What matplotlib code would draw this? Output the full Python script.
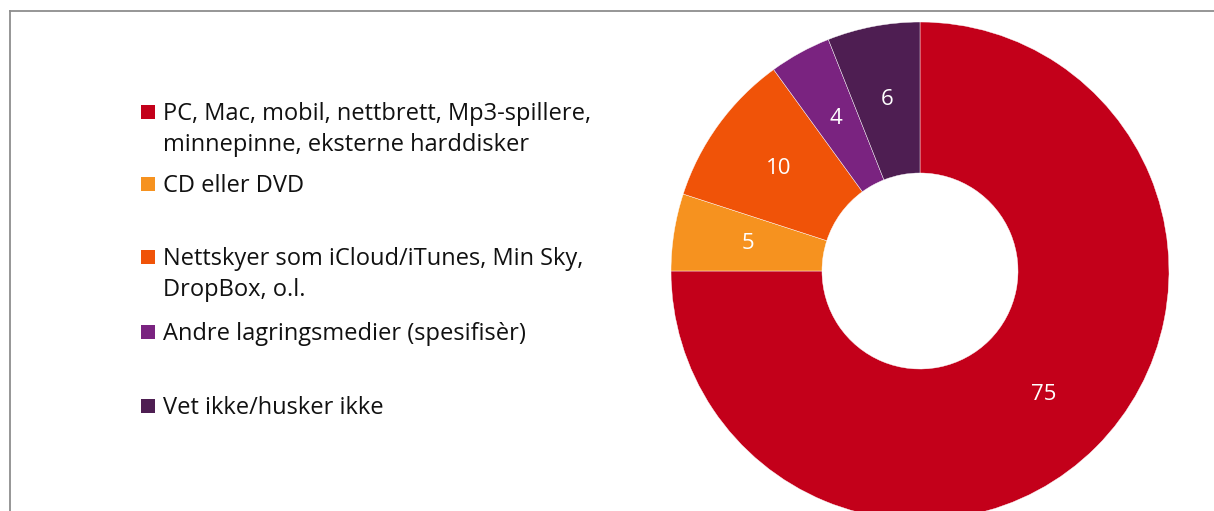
import matplotlib.pyplot as plt
from matplotlib.lines import Line2D
from matplotlib.patches import Rectangle

# data
categories = ['PC, Mac, mobil, nettbrett, Mp3-spillere,\nminnepinne, eksterne harddisker',
              'CD eller DVD',
              'Nettskyer som iCloud/iTunes, Min Sky,\nDropBox, o.l.',
              'Andre lagringsmedier (spesifisèr)',
              'Vet ikke/husker ikke']
values = [75, 5, 10, 4, 6]
COLORS = ['#C3001A', '#F6921F', '#F05308', '#7A2380', '#4E1E52']

W, H = 1214, 511
plt.rcParams['font.family'] = ['Open Sans', 'DejaVu Sans']

fig = plt.figure(figsize=(W / 100, H / 100), dpi=100)
fig.patch.set_facecolor('white')
ax = fig.add_axes([0, 0, 1, 1])

wedges, texts, autotexts = ax.pie(
    values, colors=COLORS, startangle=90, counterclock=False,
    center=(920, H - 271), radius=249,
    wedgeprops=dict(width=249 - 98, edgecolor='white', linewidth=0.3),
    autopct=lambda p: f'{p:.0f}', pctdistance=0.70,
    textprops=dict(color='white', fontsize=16))

ax.set_xlim(0, W)
ax.set_ylim(0, H)
ax.set_aspect('equal')
ax.axis('off')

# legend drawn by hand (uneven row spacing as in the original)
first_baselines = [120, 192, 265, 340, 414]
line_gap = 31
for cat, col, yb in zip(categories, COLORS, first_baselines):
    ax.add_patch(Rectangle((141, H - yb + 1), 14, 14, color=col, lw=0))
    for i, line in enumerate(cat.split('\n')):
        ax.text(163, H - yb - i * line_gap, line, fontsize=17,
                color='#111111', va='baseline', ha='left')

# chart frame (top and left edges)
ax.add_line(Line2D([9.5, W], [H - 10.5, H - 10.5], color='#8E8E8E', lw=1.3))
ax.add_line(Line2D([9.5, 9.5], [H - 10.5, 0], color='#8E8E8E', lw=1.3))

plt.savefig('out.png', dpi=100, facecolor=fig.get_facecolor())
plt.close()
